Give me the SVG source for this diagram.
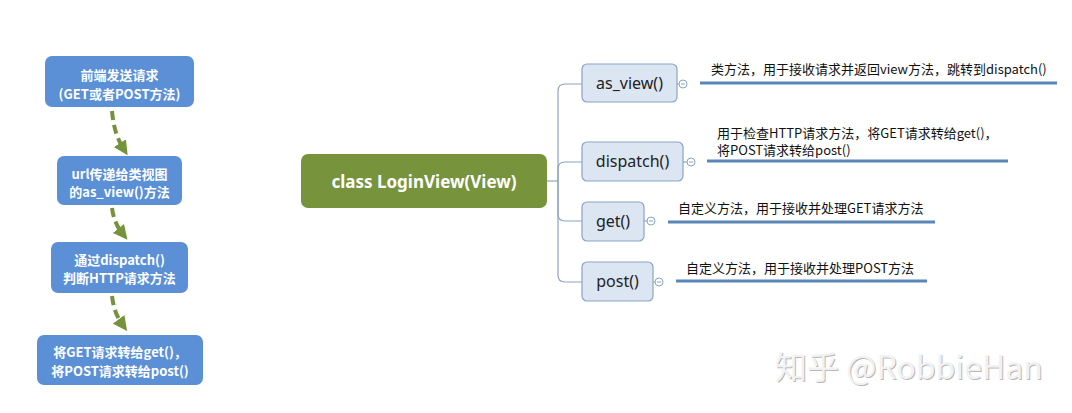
<svg xmlns="http://www.w3.org/2000/svg" width="1072" height="413" viewBox="0 0 1072 413">
<style>
.step{fill:#5b8fd6;}
.steptxt{font-family:"Noto Sans CJK SC","Noto Sans",sans-serif;font-weight:bold;font-size:13px;fill:#ffffff;text-anchor:middle;}
.flow{fill:none;stroke:#76923c;stroke-width:4;stroke-dasharray:9,5;}
.branch{fill:none;stroke:#8aa4c4;stroke-width:1.2;}
.child{fill:#dce6f2;stroke:#8aa4c4;stroke-width:1.2;}
.childtxt{font-family:"Noto Sans","Noto Sans CJK SC",sans-serif;font-size:16px;fill:#222;text-anchor:middle;}
.tog{fill:#fff;stroke:#8aa4c4;stroke-width:1;}
.under{stroke:#5b86b8;stroke-width:3;}
.note{font-family:"Noto Sans CJK SC","Noto Sans",sans-serif;font-size:13px;fill:#111;}
</style>
<defs>
<marker id="ah" viewBox="0 0 10 10" refX="4" refY="5" markerWidth="3.6" markerHeight="3.6" orient="auto" markerUnits="strokeWidth">
<path d="M0,0 L10,5 L0,10 z" fill="#76923c"/>
</marker>
</defs>
<rect width="1072" height="413" fill="#ffffff"/>

<g id="connectors">
<path class="flow" d="M112,111 Q114,134 123,148" marker-end="url(#ah)"/>
<path class="flow" d="M112,208 Q114,223 122,233" marker-end="url(#ah)"/>
<path class="flow" d="M112,296 Q114,313 122,324" marker-end="url(#ah)"/>
<path class="branch" d="M547,181 H558"/>
<path class="branch" d="M558,181 V91 Q558,84 565,84 H582"/>
<path class="branch" d="M558,181 V169 Q558,162 565,162 H582"/>
<path class="branch" d="M558,181 V214 Q558,221 565,221 H582"/>
<path class="branch" d="M558,181 V275 Q558,282 565,282 H582"/>
</g>

<g id="step1">
<rect class="step" x="45" y="56" width="149" height="51" rx="7"/>
<text class="steptxt" x="119.5" y="80">前端发送请求</text>
<text class="steptxt" x="119.5" y="99">(GET或者POST方法)</text>
</g>
<g id="step2">
<rect class="step" x="57" y="156" width="125" height="49" rx="7"/>
<text class="steptxt" x="119.5" y="179">url传递给类视图</text>
<text class="steptxt" x="119.5" y="197">的as_view()方法</text>
</g>
<g id="step3">
<rect class="step" x="51" y="242" width="137" height="51" rx="7"/>
<text class="steptxt" x="119.5" y="265">通过dispatch()</text>
<text class="steptxt" x="119.5" y="283">判断HTTP请求方法</text>
</g>
<g id="step4">
<rect class="step" x="37" y="335" width="166" height="50" rx="7"/>
<text class="steptxt" x="120" y="357">将GET请求转给get()，</text>
<text class="steptxt" x="120" y="376">将POST请求转给post()</text>
</g>

<g id="root">
<rect x="301" y="154" width="246" height="54" rx="7" fill="#77933c"/>
<text x="424" y="188" font-family="Noto Sans,Noto Sans CJK SC,sans-serif" font-weight="bold" font-size="17" fill="#ffffff" text-anchor="middle">class LoginView(View)</text>
</g>

<g id="as_view">
<rect class="child" x="582" y="64" width="95" height="38" rx="5"/>
<text class="childtxt" x="629.5" y="89">as_view()</text>
<line class="branch" x1="677" y1="84" x2="679" y2="84"/>
<circle class="tog" cx="683" cy="84" r="4"/>
<line x1="681" y1="84" x2="685" y2="84" stroke="#8aa4c4" stroke-width="1"/>
<line class="under" x1="700" y1="83" x2="1057" y2="83"/>
<text class="note" x="711" y="74">类方法，用于接收请求并返回view方法，跳转到dispatch()</text>
</g>

<g id="dispatch">
<rect class="child" x="582" y="142" width="101" height="39" rx="5"/>
<text class="childtxt" x="632.5" y="167">dispatch()</text>
<line class="branch" x1="683" y1="162" x2="687" y2="162"/>
<circle class="tog" cx="691" cy="162" r="4"/>
<line x1="689" y1="162" x2="693" y2="162" stroke="#8aa4c4" stroke-width="1"/>
<line class="under" x1="707" y1="161" x2="1008" y2="161"/>
<text class="note" x="717" y="138">用于检查HTTP请求方法，将GET请求转给get()，</text>
<text class="note" x="717" y="155">将POST请求转给post()</text>
</g>

<g id="get">
<rect class="child" x="582" y="202" width="62" height="39" rx="5"/>
<text class="childtxt" x="613" y="227">get()</text>
<line class="branch" x1="644" y1="221" x2="647" y2="221"/>
<circle class="tog" cx="651" cy="221" r="4"/>
<line x1="649" y1="221" x2="653" y2="221" stroke="#8aa4c4" stroke-width="1"/>
<line class="under" x1="668" y1="222" x2="935" y2="222"/>
<text class="note" x="678" y="213">自定义方法，用于接收并处理GET请求方法</text>
</g>

<g id="post">
<rect class="child" x="582" y="262" width="71" height="39" rx="5"/>
<text class="childtxt" x="617.5" y="287">post()</text>
<line class="branch" x1="653" y1="282" x2="655" y2="282"/>
<circle class="tog" cx="659" cy="282" r="4"/>
<line x1="657" y1="282" x2="661" y2="282" stroke="#8aa4c4" stroke-width="1"/>
<line class="under" x1="676" y1="281" x2="927" y2="281"/>
<text class="note" x="686" y="273">自定义方法，用于接收并处理POST方法</text>
</g>

<g id="watermark" font-family="Noto Sans CJK SC,Noto Sans,sans-serif" font-size="32">
<text x="776" y="380" fill="#b8b8b8">知乎 @RobbieHan</text>
<text x="775" y="379" fill="#f2f2f2">知乎 @RobbieHan</text>
</g>
</svg>
